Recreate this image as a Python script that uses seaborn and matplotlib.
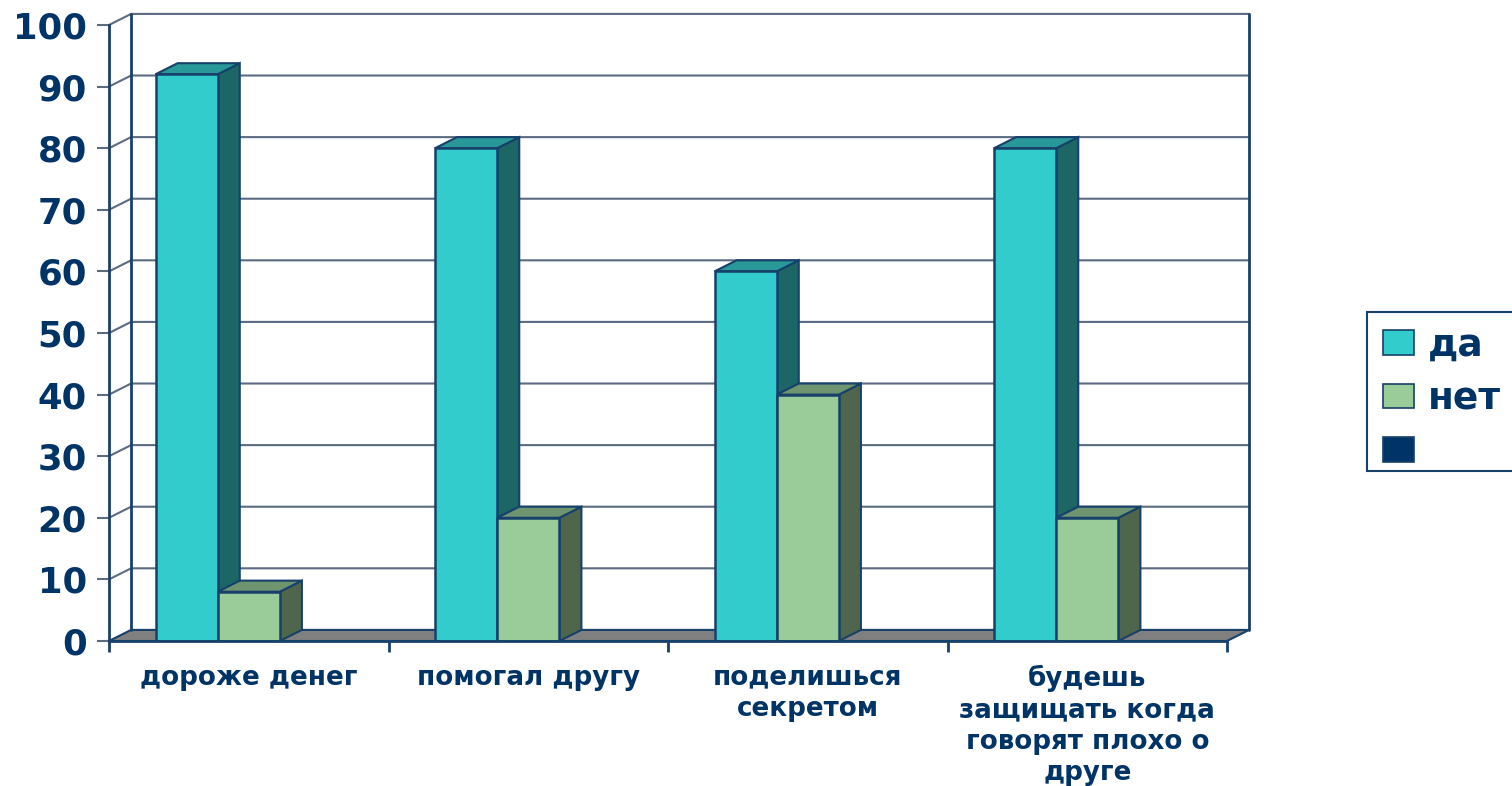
import numpy as np
import pandas as pd
import matplotlib
matplotlib.use('Agg')
import matplotlib.pyplot as plt
from matplotlib.patches import Polygon, Patch, Rectangle
import seaborn as sns

# chart values
categories = ['дороже денег', 'помогал другу', 'поделишься\nсекретом',
              'будешь\nзащищать когда\nговорят плохо о\nдруге']
series_names = ['да', 'нет', ' ']
da_values = [92, 80, 60, 80]
net_values = [8, 20, 40, 20]
empty_values = [np.nan, np.nan, np.nan, np.nan]
y_ticks = [0, 10, 20, 30, 40, 50, 60, 70, 80, 90, 100]

navy = '#003366'
edge = '#17406B'
grid_col = '#5B6B82'
front_cols = ['#33CCCC', '#99CC99', '#003366']
top_cols = ['#289898', '#6F9470', '#003366']
side_cols = ['#1C6666', '#4F664C', '#003366']

# depth of the fake 3d box, in data units
depth_x = 0.079
depth_y = 1.8

sns.set_theme(style='white')
plt.rcParams['font.family'] = ['DejaVu Sans']
plt.rcParams['font.weight'] = 'bold'

df = pd.DataFrame({
    'category': categories * 3,
    'series': np.repeat(series_names, 4),
    'value': da_values + net_values + empty_values,
})

fig = plt.figure(figsize=(15.12, 7.86), dpi=100)
ax = fig.add_axes([109 / 1512, 1 - 641 / 786, (1227 - 109) / 1512, (641 - 25) / 786])

sns.barplot(data=df, x='category', y='value', hue='series', order=categories,
            hue_order=series_names, palette=dict(zip(series_names, front_cols)),
            width=0.667, gap=0, saturation=1, edgecolor=edge, linewidth=1.8,
            legend=False, ax=ax, zorder=3)

ax.set_xlim(-0.5, 3.5)
ax.set_ylim(0, 100)
ax.set_xlabel('')
ax.set_ylabel('')

# walls and floor
x0, x1 = -0.5, 3.5
floor = Polygon([(x0, 0), (x1, 0), (x1 + depth_x, depth_y), (x0 + depth_x, depth_y)],
                closed=True, facecolor='#808080', edgecolor=edge, linewidth=1.5,
                clip_on=False, zorder=1)
ax.add_patch(floor)
for v in y_ticks[1:]:
    ax.plot([x0, x0 + depth_x, x1 + depth_x], [v, v + depth_y, v + depth_y],
            color=grid_col, lw=1.5, clip_on=False, zorder=0.5)
ax.plot([x0 + depth_x, x0 + depth_x], [depth_y, 100 + depth_y], color=edge, lw=2, clip_on=False, zorder=1.2)
ax.plot([x1 + depth_x, x1 + depth_x], [depth_y, 100 + depth_y], color=edge, lw=2, clip_on=False, zorder=1.2)

# top and side faces on the bars seaborn drew
for s, container in enumerate(ax.containers):
    for bar in container:
        h = bar.get_height()
        if not np.isfinite(h):
            continue
        left = bar.get_x()
        right = left + bar.get_width()
        top = Polygon([(left, h), (right, h), (right + depth_x, h + depth_y), (left + depth_x, h + depth_y)],
                      closed=True, facecolor=top_cols[s], edgecolor=edge, linewidth=1.5,
                      clip_on=False, zorder=2 + s * 0.1)
        side = Polygon([(right, 0), (right, h), (right + depth_x, h + depth_y), (right + depth_x, depth_y)],
                       closed=True, facecolor=side_cols[s], edgecolor=edge, linewidth=1.5,
                       clip_on=False, zorder=2 + s * 0.1)
        ax.add_patch(side)
        ax.add_patch(top)

# axes
sns.despine(ax=ax, top=True, right=True)
for name in ['left', 'bottom']:
    ax.spines[name].set_color(edge)
    ax.spines[name].set_linewidth(2)
    ax.spines[name].set_zorder(4)

ax.set_yticks(y_ticks)
ax.tick_params(axis='y', length=9, width=1.5, color=grid_col, pad=7, labelsize=25.5, labelcolor=navy, left=True)
ax.set_xticks(np.arange(-0.5, 4, 1))
ax.set_xticklabels([])
ax.tick_params(axis='x', which='major', length=8, width=2, color=edge, bottom=True)
ax.set_xticks(np.arange(4), labels=categories, minor=True)
ax.tick_params(axis='x', which='minor', length=0, pad=17, labelsize=18.8, labelcolor=navy)
for lab in ax.get_xticklabels(minor=True):
    lab.set_linespacing(1.27)
    lab.set_ha('center')
    lab.set_va('top')

# legend box runs off the right edge of the picture
fig.add_artist(Rectangle((1367 / 1512, 1 - 471 / 786), 200 / 1512, 159 / 786,
                         transform=fig.transFigure, facecolor='white', edgecolor=edge, linewidth=1.5))
handles = [Patch(facecolor=c, edgecolor=edge, linewidth=1.2, label=n)
           for c, n in zip(front_cols, series_names)]
leg = fig.legend(handles=handles, loc='upper left', bbox_to_anchor=(1367 / 1512, 1 - 312 / 786),
                 borderaxespad=0, fontsize=27, labelcolor=navy, frameon=False,
                 handlelength=0.83, handleheight=0.64, handletextpad=0.37, labelspacing=0.47,
                 borderpad=0.417)

fig.savefig('out.png', dpi=100)
